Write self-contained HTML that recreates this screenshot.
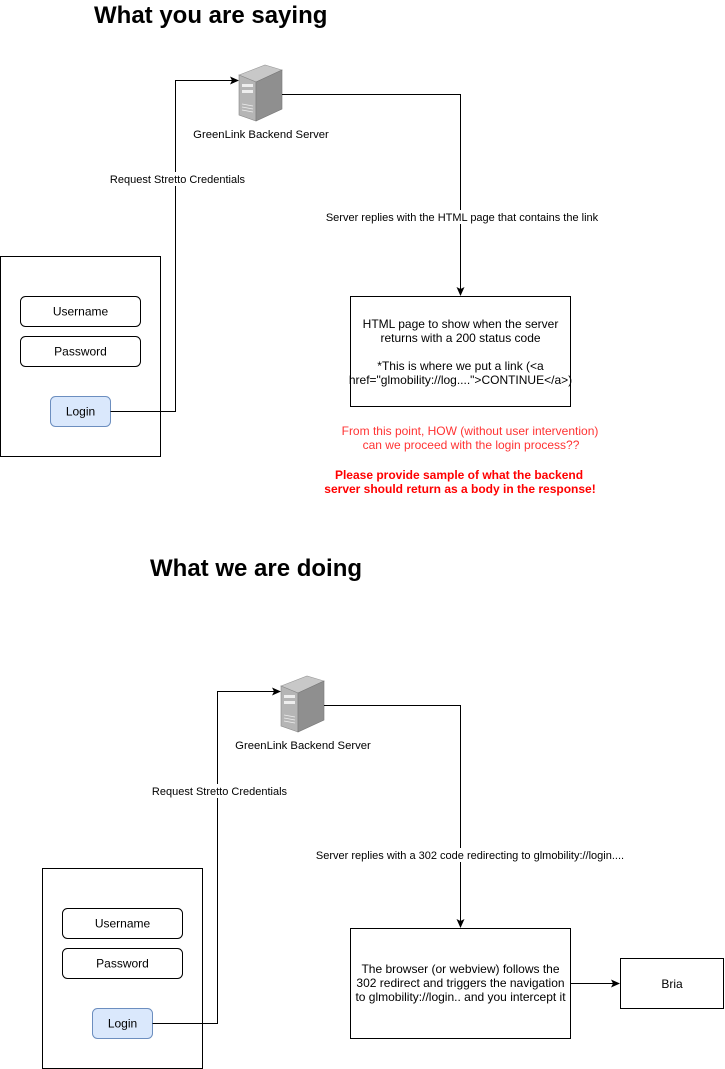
<!DOCTYPE html>
<html><head><meta charset="utf-8"><style>
html,body{margin:0;padding:0;background:#fff;}
svg{display:block;font-family:"Liberation Sans",Arial,sans-serif;}
</style></head><body>
<svg width="725" height="1069" viewBox="0 0 725 1069" xmlns="http://www.w3.org/2000/svg">
<defs>
<marker id="ah" markerWidth="10" markerHeight="10" refX="8" refY="4" orient="auto" markerUnits="userSpaceOnUse">
<path d="M0,0 L9,4 L0,8 L2,4 Z" fill="#000"/>
</marker>
<g id="srv">
<polygon points="0,9 26,-1 43,4 17,16" fill="#c8c8c8" stroke="#999" stroke-width="0.6"/>
<polygon points="0,9 17,16 17,55 0,49" fill="#b5b5b5" stroke="#888" stroke-width="0.6"/>
<polygon points="17,16 43,4 43,43 17,55" fill="#8f8f8f" stroke="#777" stroke-width="0.6"/>
<rect x="3" y="18" width="11" height="3" fill="#eee"/>
<rect x="3" y="24" width="11" height="3" fill="#eee"/>
<g stroke="#eee" stroke-width="0.8"><line x1="3" y1="38" x2="14" y2="40"/><line x1="3" y1="41" x2="14" y2="43"/><line x1="3" y1="44" x2="14" y2="46"/></g>
</g>
</defs>

<!-- Section 1 -->
<text x="94" y="23" font-size="24" font-weight="bold">What you are saying</text>
<use href="#srv" x="239" y="66"/>
<text x="261" y="138" font-size="11.3" text-anchor="middle">GreenLink Backend Server</text>

<rect x="0.5" y="256.5" width="160" height="200" fill="none" stroke="#000"/>
<rect x="20.5" y="296.5" width="120" height="30" rx="5" fill="#fff" stroke="#000"/>
<text x="80.5" y="315.5" font-size="12" text-anchor="middle">Username</text>
<rect x="20.5" y="336.5" width="120" height="30" rx="5" fill="#fff" stroke="#000"/>
<text x="80.5" y="355.5" font-size="12" text-anchor="middle">Password</text>
<rect x="50.5" y="396.5" width="60" height="30" rx="5" fill="#dae8fc" stroke="#6c8ebf"/>
<text x="80.5" y="415.5" font-size="12" text-anchor="middle">Login</text>

<polyline points="110.5,411.5 175.5,411.5 175.5,80.5 238,80.5" fill="none" stroke="#000" marker-end="url(#ah)"/>
<rect x="109" y="172" width="137" height="14" fill="#fff"/>
<text x="177.5" y="183" font-size="11" text-anchor="middle">Request Stretto Credentials</text>

<polyline points="282,94.5 460.5,94.5 460.5,295" fill="none" stroke="#000" marker-end="url(#ah)"/>
<rect x="324" y="210" width="276" height="14" fill="#fff"/>
<text x="462" y="221" font-size="11" text-anchor="middle">Server replies with the HTML page that contains the link</text>

<rect x="350.5" y="296.5" width="220" height="110" fill="#fff" stroke="#000"/>
<g font-size="12" text-anchor="middle">
<text x="460.5" y="328">HTML page to show when the server</text>
<text x="460.5" y="342">returns with a 200 status code</text>
<text x="460.5" y="370">*This is where we put a link (&lt;a</text>
<text x="460.5" y="384">href="glmobility://log...."&gt;CONTINUE&lt;/a&gt;)</text>
</g>
<g font-size="12" text-anchor="middle" fill="#ff3333">
<text x="470" y="435">From this point, HOW (without user intervention)</text>
<text x="471" y="449">can we proceed with the login process??</text>
</g>
<g font-size="12" text-anchor="middle" fill="#ff0000" font-weight="bold">
<text x="459" y="479">Please provide sample of what the backend</text>
<text x="460" y="493">server should return as a body in the response!</text>
</g>

<!-- Section 2 -->
<text x="150" y="576" font-size="24" font-weight="bold">What we are doing</text>
<use href="#srv" x="281" y="677"/>
<text x="303" y="749" font-size="11.3" text-anchor="middle">GreenLink Backend Server</text>

<rect x="42.5" y="868.5" width="160" height="200" fill="none" stroke="#000"/>
<rect x="62.5" y="908.5" width="120" height="30" rx="5" fill="#fff" stroke="#000"/>
<text x="122.5" y="927.5" font-size="12" text-anchor="middle">Username</text>
<rect x="62.5" y="948.5" width="120" height="30" rx="5" fill="#fff" stroke="#000"/>
<text x="122.5" y="967.5" font-size="12" text-anchor="middle">Password</text>
<rect x="92.5" y="1008.5" width="60" height="30" rx="5" fill="#dae8fc" stroke="#6c8ebf"/>
<text x="122.5" y="1027.5" font-size="12" text-anchor="middle">Login</text>

<polyline points="152.5,1023.5 217.5,1023.5 217.5,691.5 280,691.5" fill="none" stroke="#000" marker-end="url(#ah)"/>
<rect x="151" y="784" width="137" height="14" fill="#fff"/>
<text x="219.5" y="795" font-size="11" text-anchor="middle">Request Stretto Credentials</text>

<polyline points="324,705.5 460.5,705.5 460.5,927" fill="none" stroke="#000" marker-end="url(#ah)"/>
<rect x="314" y="848" width="312" height="14" fill="#fff"/>
<text x="470" y="859" font-size="11" text-anchor="middle">Server replies with a 302 code redirecting to glmobility://login....</text>

<rect x="350.5" y="928.5" width="220" height="110" fill="#fff" stroke="#000"/>
<g font-size="12" text-anchor="middle">
<text x="460.5" y="973">The browser (or webview) follows the</text>
<text x="460.5" y="987">302 redirect and triggers the navigation</text>
<text x="460.5" y="1001">to glmobility://login.. and you intercept it</text>
</g>
<line x1="570.5" y1="983.5" x2="619" y2="983.5" stroke="#000" marker-end="url(#ah)"/>
<rect x="620.5" y="958.5" width="103" height="50" fill="#fff" stroke="#000"/>
<text x="672" y="988" font-size="12" text-anchor="middle">Bria</text>
</svg>
</body></html>
